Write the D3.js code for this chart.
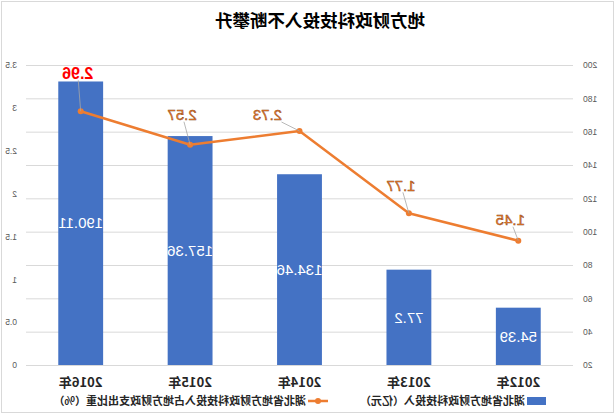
<!DOCTYPE html>
<html>
<head>
<meta charset="utf-8">
<script src="https://cdn.jsdelivr.net/npm/d3@7"></script>
<style>
  html, body { margin: 0; padding: 0; background: #fff; }
  svg { display: block; }
</style>
</head>
<body>
<svg width="615" height="414"></svg>
<script>
// data
const years = ["2012年", "2013年", "2014年", "2015年", "2016年"];
const investment = [54.39, 77.2, 134.46, 157.36, 190.11];   // 亿元
const ratio = [1.45, 1.77, 2.73, 2.57, 2.96];                // %
const leftTicks = [20, 40, 60, 80, 100, 120, 140, 160, 180, 200];
const rightTicks = [0, 0.5, 1, 1.5, 2, 2.5, 3, 3.5];
const titleText = "地方财政科技投入不断攀升";
const legendBar = "湖北省地方财政科技投入（亿元）";
const legendLine = "湖北省地方财政科技投入占地方财政支出比重（%）";

// label placement for line labels (offset from point)
const labelOffsets = [[8, -21], [8, -28], [32, -16], [8, -30], [3, -38]];

const svg = d3.select("svg");
const width = 615, height = 414;
const plot = { left: 42, right: 589, top: 65, bottom: 365 };

// the whole picture is mirrored left-right
const root = svg.append("g")
  .attr("transform", `translate(${width},0) scale(-1,1)`);

root.append("rect")
  .attr("x", 1.5).attr("y", 1.5)
  .attr("width", width - 3).attr("height", height - 3)
  .attr("fill", "#fff")
  .attr("stroke", "#D9D9D9");

const x = d3.scaleBand()
  .domain(years)
  .range([plot.left, plot.right])
  .paddingInner(0.59)
  .paddingOuter(0.295);

const yBar = d3.scaleLinear().domain([20, 200]).range([plot.bottom, plot.top]);
const yRate = d3.scaleLinear().domain([0, 3.5]).range([plot.bottom, plot.top]);

// gridlines
const grid = root.append("g")
  .attr("transform", `translate(${plot.left},0)`)
  .call(d3.axisLeft(yBar).tickValues(leftTicks)
    .tickSize(-(plot.right - plot.left)).tickFormat(""));
grid.select(".domain").remove();
grid.selectAll("line").attr("stroke", "#D9D9D9").attr("stroke-width", 1);

// axes labels
const axisFont = "'Liberation Sans', Arial, sans-serif";
const leftAxis = root.append("g")
  .attr("transform", `translate(${plot.left},0)`)
  .call(d3.axisLeft(yBar).tickValues(leftTicks).tickSize(0).tickPadding(10));
const rightAxis = root.append("g")
  .attr("transform", `translate(${plot.right},0)`)
  .call(d3.axisRight(yRate).tickValues(rightTicks).tickSize(0).tickPadding(9)
    .tickFormat(d => String(d)));
[leftAxis, rightAxis].forEach(a => {
  a.select(".domain").remove();
  a.selectAll("text")
    .attr("fill", "#595959")
    .attr("font-size", "8.5px")
    .attr("font-family", axisFont);
});

// category labels
const xAxis = root.append("g")
  .attr("transform", `translate(0,${plot.bottom})`)
  .call(d3.axisBottom(x).tickSize(0).tickPadding(13));
xAxis.select(".domain").remove();
xAxis.selectAll("text")
  .attr("fill", "#262626")
  .attr("font-size", "13px")
  .attr("font-weight", "bold")
  .attr("font-family", "'Noto Sans CJK SC', sans-serif");

// bars
root.append("g")
  .selectAll("rect")
  .data(investment)
  .join("rect")
    .attr("x", (d, i) => x(years[i]))
    .attr("y", d => yBar(d))
    .attr("width", x.bandwidth())
    .attr("height", d => yBar(20) - yBar(d))
    .attr("fill", "#4472C4");

root.append("g")
  .selectAll("text")
  .data(investment)
  .join("text")
    .attr("x", (d, i) => x(years[i]) + x.bandwidth() / 2)
    .attr("y", d => (yBar(d) + yBar(20)) / 2)
    .attr("dy", "0.35em")
    .attr("text-anchor", "middle")
    .attr("fill", "#fff")
    .attr("font-size", "15px")
    .attr("font-family", "'Liberation Sans', Arial, sans-serif")
    .text(d => d);

// line
const cx = i => x(years[i]) + x.bandwidth() / 2;
const line = d3.line()
  .x((d, i) => cx(i))
  .y(d => yRate(d));

root.append("path")
  .datum(ratio)
  .attr("d", line)
  .attr("fill", "none")
  .attr("stroke", "#ED7D31")
  .attr("stroke-width", 2.5)
  .attr("stroke-linejoin", "round");

root.append("g")
  .selectAll("circle")
  .data(ratio)
  .join("circle")
    .attr("cx", (d, i) => cx(i))
    .attr("cy", d => yRate(d))
    .attr("r", 3)
    .attr("fill", "#ED7D31");

// leader lines + line labels
const leaders = root.append("g");
const labels = root.append("g");
ratio.forEach((d, i) => {
  const px = cx(i), py = yRate(d);
  const [dx, dy] = labelOffsets[i];
  const lx = px + dx, ly = py + dy;
  const t = Math.min(14 / Math.max(Math.abs(dx), 0.01), 7 / Math.max(Math.abs(dy), 0.01));
  const sx = lx - dx * t, sy = ly - dy * t;
  leaders.append("line")
    .attr("x1", sx).attr("y1", sy)
    .attr("x2", px).attr("y2", py)
    .attr("stroke", "#A6A6A6")
    .attr("stroke-width", 0.8);
  const isMax = i === ratio.length - 1;
  labels.append("text")
    .attr("x", lx).attr("y", ly)
    .attr("dy", "0.35em")
    .attr("text-anchor", "middle")
    .attr("font-size", isMax ? "16px" : "15px")
    .attr("font-weight", isMax ? "bold" : "normal")
    .attr("font-family", "'Liberation Sans', Arial, sans-serif")
    .attr("fill", isMax ? "#FF0000" : "#ED7D31")
    .attr("stroke", isMax ? "none" : "#843C0C")
    .attr("stroke-width", 0.4)
    .text(d);
});

// title
root.append("text")
  .attr("x", 295).attr("y", 27)
  .attr("text-anchor", "middle")
  .attr("font-size", "17.5px")
  .attr("font-weight", "bold")
  .attr("font-family", "'Noto Sans CJK SC', sans-serif")
  .attr("fill", "#000")
  .text(titleText);

// legend
const legend = root.append("g").attr("transform", "translate(0,401)");
legend.append("rect")
  .attr("x", 69).attr("y", -4)
  .attr("width", 19).attr("height", 8)
  .attr("fill", "#4472C4");
legend.append("text")
  .attr("x", 90).attr("y", 0).attr("dy", "0.35em")
  .attr("font-size", "11px")
  .attr("font-weight", "bold")
  .attr("font-family", "'Noto Sans CJK SC', sans-serif")
  .attr("fill", "#262626")
  .text(legendBar);
legend.append("line")
  .attr("x1", 287).attr("x2", 307)
  .attr("y1", 0).attr("y2", 0)
  .attr("stroke", "#ED7D31")
  .attr("stroke-width", 2.5);
legend.append("circle")
  .attr("cx", 297).attr("cy", 0).attr("r", 3)
  .attr("fill", "#ED7D31");
legend.append("text")
  .attr("x", 309).attr("y", 0).attr("dy", "0.35em")
  .attr("font-size", "11px")
  .attr("font-weight", "bold")
  .attr("font-family", "'Noto Sans CJK SC', sans-serif")
  .attr("fill", "#262626")
  .text(legendLine);
</script>
</body>
</html>
